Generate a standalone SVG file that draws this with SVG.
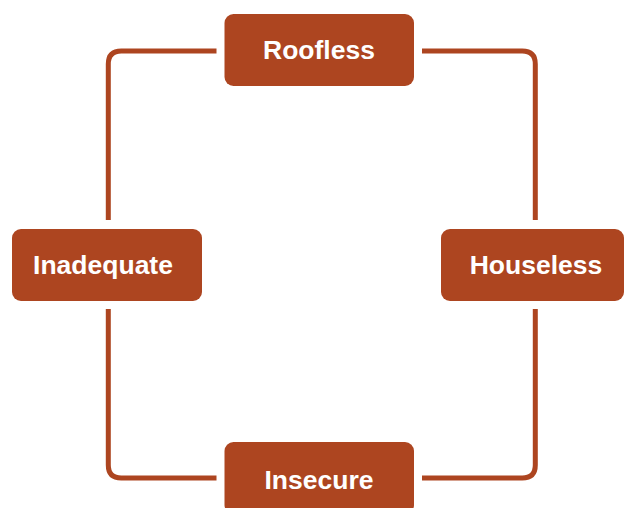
<svg xmlns="http://www.w3.org/2000/svg" width="625" height="508" viewBox="0 0 625 508">
<style>
.box{fill:#AD4520;}
.lbl{fill:#ffffff;font-family:"Liberation Sans",Arial,Helvetica,sans-serif;font-weight:bold;font-size:26.5px;text-anchor:middle;}
.conn{fill:none;stroke:#AD4520;stroke-width:5;}
</style>
<rect width="625" height="508" fill="#ffffff"/>
<g id="connectors">
<path class="conn" d="M216.5,51 H121.3 Q108.3,51 108.3,64 V220"/>
<path class="conn" d="M108.3,309 V465 Q108.3,478 121.3,478 H216.5"/>
<path class="conn" d="M422,51 H522.3 Q535.3,51 535.3,64 V220"/>
<path class="conn" d="M535.3,309 V465 Q535.3,478 522.3,478 H422"/>
</g>
<g id="roofless">
<rect class="box" x="224.5" y="14" width="189.5" height="72" rx="9"/>
<text class="lbl" x="319" y="58.5">Roofless</text>
</g>
<g id="inadequate">
<rect class="box" x="12" y="229" width="190" height="72" rx="9"/>
<text class="lbl" x="103" y="274">Inadequate</text>
</g>
<g id="houseless">
<rect class="box" x="441" y="229" width="183" height="72" rx="9"/>
<text class="lbl" x="536" y="274">Houseless</text>
</g>
<g id="insecure">
<rect class="box" x="224.5" y="442" width="189.5" height="72" rx="9"/>
<text class="lbl" x="319" y="488.5">Insecure</text>
</g>
</svg>
